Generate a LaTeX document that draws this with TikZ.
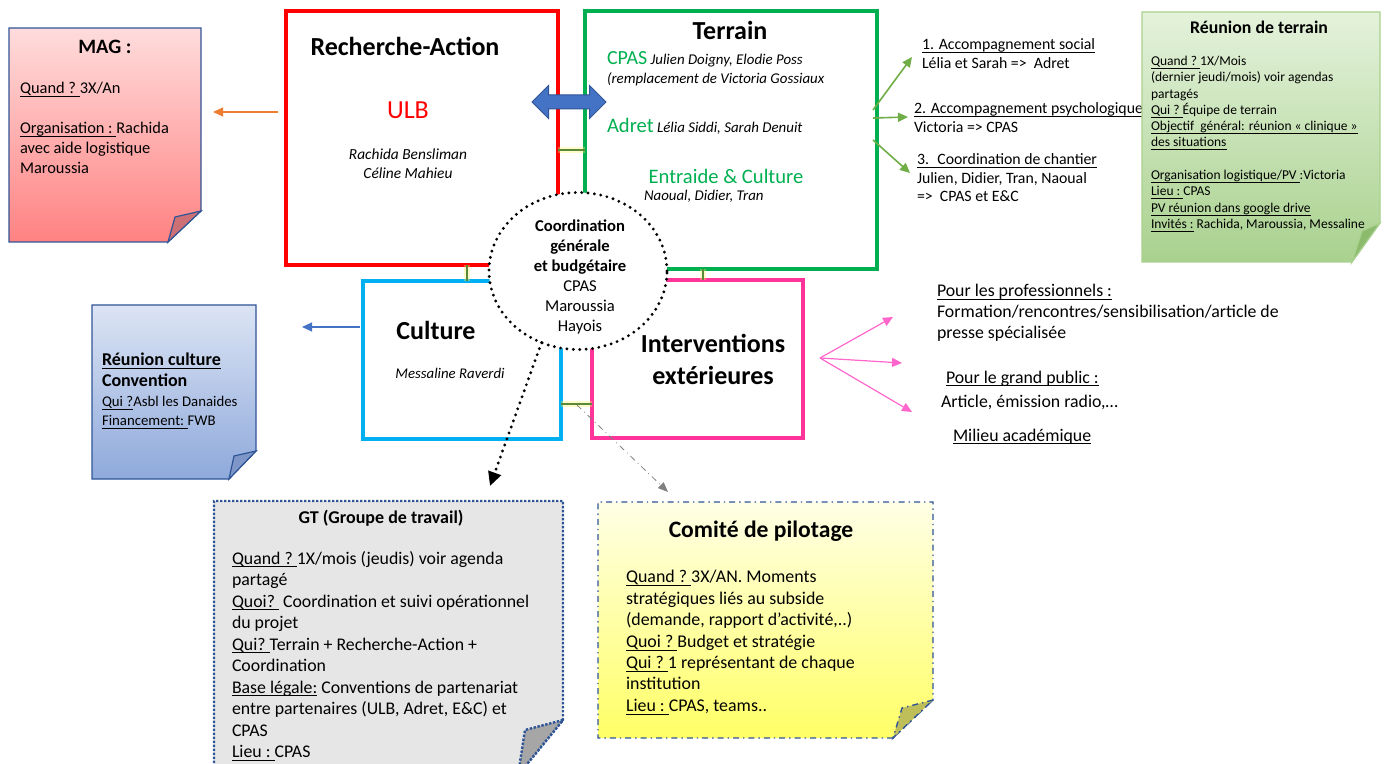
\documentclass[tikz,border=0pt]{standalone}
\usepackage{fontspec}
\setmainfont{Carlito}
\usetikzlibrary{arrows.meta,shapes.geometric,shapes.arrows}

\definecolor{ulbred}{HTML}{FF0000}
\definecolor{terrgreen}{HTML}{00B050}
\definecolor{cultblue}{HTML}{00B0F0}
\definecolor{intpink}{HTML}{FF3399}
\definecolor{notebord}{HTML}{2F5597}
\definecolor{arrblue}{HTML}{4472C4}
\definecolor{arrorange}{HTML}{ED7D31}
\definecolor{arrgreen}{HTML}{70AD47}
\definecolor{arrpink}{HTML}{FF66CC}
\definecolor{magtop}{HTML}{FFDCDC}
\definecolor{magbot}{HTML}{FF8282}
\definecolor{magfold}{HTML}{CC7075}
\definecolor{rcutop}{HTML}{DCE4F4}
\definecolor{rcubot}{HTML}{8EA9DB}
\definecolor{rcufold}{HTML}{7F96C8}
\definecolor{rtgtop}{HTML}{E4F2DB}
\definecolor{rtgbot}{HTML}{A9D18E}
\definecolor{rtgbord}{HTML}{A9D18E}
\definecolor{rtgfold}{HTML}{8DBB6E}
\definecolor{gtfill}{HTML}{E7E6E6}
\definecolor{gtfold}{HTML}{A6A6A6}
\definecolor{coptop}{HTML}{FFFFE6}
\definecolor{copbot}{HTML}{FFFF66}
\definecolor{copfold}{HTML}{BFBF5A}

\newcommand{\fsz}[2]{\fontsize{#1}{#2}\selectfont}
\newcommand{\uln}[1]{\underline{\smash{#1}}}

\tikzset{
  every node/.style={inner sep=0pt, outer sep=0pt},
  orgbox/.style={draw, line width=2pt},
  txt/.style={align=left, anchor=north west},
  tipsmall/.style={-{Triangle[length=5pt,width=4.5pt]}},
  grnarrow/.style={draw=arrgreen, line width=0.8pt, tipsmall},
  pnkarrow/.style={draw=arrpink, line width=0.6pt, tipsmall},
  glowline/.style={draw=arrgreen!80!black, line width=0.6pt,
    preaction={draw=yellow!60!white, line width=3pt, opacity=0.35}},
  notefold/.style={line width=0.6pt}
}

\begin{document}
\begin{tikzpicture}[x=0.5pt, y=-0.5pt]
\useasboundingbox (0,0) rectangle (1384,764);
\clip (0,0) rectangle (1384,764);

% MAG note
\shade[top color=magtop, bottom color=magbot, draw=notebord, line width=0.6pt]
  (9,28) -- (201,28) -- (201,211) -- (168,242) -- (9,242) -- cycle;
\filldraw[notefold, fill=magfold, draw=notebord] (201,211) -- (175,217) -- (168,242) -- cycle;
\node[font=\fsz{10.2}{12}\bfseries] (magt) at (105,47) {MAG :};
\node[txt, font=\fsz{8.2}{10}] (magb) at (20,80)
  {\strut\uln{Quand ?~}3X/An\\[10pt]\uln{Organisation :~}Rachida\\avec aide logistique\\Maroussia};

% Reunion culture note
\shade[top color=rcutop, bottom color=rcubot, draw=notebord, line width=0.6pt]
  (92,305) -- (256,305) -- (256,451) -- (229,479) -- (92,479) -- cycle;
\filldraw[notefold, fill=rcufold, draw=notebord] (256,451) -- (234,456) -- (229,479) -- cycle;
\node[txt, font=\fsz{9}{10.5}\bfseries] (rcub) at (102,351)
  {\strut\uln{Réunion culture}\\Convention};
\node[txt, font=\fsz{7.4}{9.5}] (rcus) at (102,393)
  {\strut\uln{Qui ?}Asbl les Danaides\\\uln{Financement:~}FWB};

% boxes
\node[orgbox, draw=ulbred, minimum width=136pt, minimum height=127pt] (ra) at (422,138) {};
\node[orgbox, draw=terrgreen, minimum width=146pt, minimum height=129pt] (ter) at (731,140) {};
\node[orgbox, draw=cultblue, line width=1.6pt, minimum width=99pt, minimum height=79pt] (cul) at (462,360) {};
\node[orgbox, draw=intpink, line width=1.6pt, minimum width=105.5pt, minimum height=79pt] (int) at (697.5,359) {};

% hidden connectors between boxes
\draw[glowline] ([yshift=-6pt]ra.east) -- ([yshift=-6pt]ra.east -| ter.west);
\draw[glowline] ([xshift=2.5pt]cul.north) -- ([xshift=2.5pt]cul.north |- ra.south);
\draw[glowline] ([xshift=2.75pt]int.north) -- ([xshift=2.75pt]int.north |- ter.south);
\draw[glowline] ([yshift=-22pt]cul.east) -- ([yshift=-22pt]cul.east -| int.west);

\node[double arrow, fill=arrblue, draw=notebord, line width=0.5pt, inner sep=3.25pt,
  minimum width=16pt, minimum height=37pt, double arrow head extend=4.75pt] (link) at (569,102) {};

% Recherche-Action
\node[font=\fsz{13}{15}\bfseries] (rat) at (405,46) {Recherche-Action};
\node[font=\fsz{13}{15}, text=ulbred] (ulb) at (408,110) {ULB};
\node[font=\fsz{7.7}{9.5}\itshape, align=center] (ranames) at (408,164) {Rachida Bensliman\\Céline Mahieu};

% Terrain
\node[font=\fsz{13}{15}\bfseries] (tert) at (730,30) {Terrain};
\node[anchor=base west, font=\fsz{7.45}{9}\itshape] (cpas) at (607,65)
  {{\fsz{10}{12}\upshape\color{terrgreen}CPAS} Julien Doigny, Elodie Poss};
\node[anchor=base west, font=\fsz{7.45}{9}\itshape] (cpasb) at (607,84) {(remplacement de Victoria Gossiaux};
\node[anchor=base west, font=\fsz{7.45}{9}\itshape] (adret) at (607,133)
  {{\fsz{10.3}{12}\upshape\color{terrgreen}Adret} Lélia Siddi, Sarah Denuit};
\node[font=\fsz{10.3}{12}, text=terrgreen] (ec) at (726,176) {Entraide \& Culture};
\node[anchor=base west, font=\fsz{7.45}{9}\itshape] (ecnames) at (644,201) {Naoual, Didier, Tran};

% Culture & Interventions
\node[font=\fsz{13}{15}\bfseries] (cult) at (436,330) {Culture};
\node[font=\fsz{7.4}{9}\itshape] (culn) at (450,373) {Messaline Raverdi};
\node[font=\fsz{13}{16}\bfseries, align=center] (intt) at (713,359) {Interventions\\extérieures};

% coordination
\node[ellipse, draw, fill=white, line width=1.6pt, dash pattern=on 0pt off 3.2pt, line cap=round,
  minimum width=89pt, minimum height=78.5pt] (coord) at (578,271) {};
\node[font=\fsz{8.3}{10}, align=center] (coordt) at (580,277)
  {\textbf{Coordination}\\\textbf{générale}\\\textbf{et budgétaire}\\CPAS\\Maroussia\\Hayois};

% arrows out
\coordinate (magout) at (278,112);
\coordinate (magin) at (213,112);
\draw[draw=arrorange, line width=0.6pt, tipsmall] (magout) -- (magin);
\coordinate (culin) at (302,327);
\draw[draw=arrblue, line width=0.6pt, tipsmall] ([yshift=16.5pt,xshift=-1.5pt]cul.west) -- (culin);

\coordinate (soc) at (912,57);
\coordinate (psy) at (908,117);
\coordinate (chant) at (910,173);
\draw[grnarrow] ([yshift=15pt,xshift=-2pt]ter.east) -- (soc);
\draw[grnarrow] ([yshift=11pt,xshift=-2pt]ter.east) -- (psy);
\draw[grnarrow] ([xshift=-2pt]ter.east) -- (chant);

\coordinate (pk) at (820,358);
\coordinate (pk1) at (893,317);
\coordinate (pk2) at (902,363);
\coordinate (pk3) at (912,412);
\draw[pnkarrow] (pk) -- (pk1);
\draw[pnkarrow] (pk) -- (pk2);
\draw[pnkarrow] (pk) -- (pk3);

\coordinate (gtin) at (490,486);
\draw[line width=1.6pt, dash pattern=on 0pt off 3.2pt, line cap=round,
  -{Triangle[length=7pt,width=6.5pt]}] (coord.243) -- (gtin);
\coordinate (cijct) at (577,405);
\coordinate (copin) at (668,492);
\draw[draw=gray, line width=0.4pt, dash dot, -{Triangle[length=5pt,width=4pt]}] (cijct) -- (copin);

% accompaniment texts
\node[txt, font=\fsz{7.9}{9.25}] (socl) at (922,37)
  {\strut\uln{1. Accompagnement social}\\Lélia et Sarah =>~ Adret};
\node[txt, font=\fsz{7.9}{9.25}] (psyl) at (914,101)
  {\strut\uln{2. Accompagnement psychologique}\\Victoria => CPAS};
\node[txt, font=\fsz{7.9}{9.25}] (chl) at (917,152)
  {\strut\uln{3.~ Coordination de chantier}\\Julien, Didier, Tran, Naoual\\=>~ CPAS et E\&C};

% Reunion de terrain note
\shade[top color=rtgtop, bottom color=rtgbot, draw=rtgbord, line width=0.6pt]
  (1142,12) -- (1380,12) -- (1380,223) -- (1352,262) -- (1142,262) -- cycle;
\filldraw[notefold, fill=rtgfold, draw=rtgbord] (1380,223) -- (1362,231) -- (1352,262) -- cycle;
\node[font=\fsz{8.9}{10}\bfseries] (rtgt) at (1259,27) {Réunion de terrain};
\node[txt, font=\fsz{6.75}{8.15}] (rtgb) at (1151,54)
  {\strut\uln{Quand ?~}1X/Mois\\(dernier jeudi/mois) voir agendas\\partagés\\\uln{Qui ?~}Équipe de terrain\\
   \uln{Objectif~ général: réunion « clinique »}\\\uln{des situations}\\[8.15pt]
   \uln{Organisation logistique/PV~}:Victoria\\\uln{Lieu :~}CPAS\\\uln{PV réunion dans google drive}\\
   \uln{Invités :}~Rachida, Maroussia, Messaline};

% public texts
\node[txt, font=\fsz{8.9}{10.5}] (prof) at (937,282)
  {\strut\uln{Pour les professionnels :}\\Formation/rencontres/sensibilisation/article de\\presse spécialisée};
\node[anchor=base west, font=\fsz{8.9}{10.5}] (pub) at (946,383) {\uln{Pour le grand public :}};
\node[anchor=base west, font=\fsz{8.9}{10.5}] (pubb) at (941,407) {Article, émission radio,…};
\node[anchor=base west, font=\fsz{8.9}{10.5}] (acad) at (953,441) {\uln{Milieu académique}};

% GT note
\fill[gtfill] (214,501) -- (563,501) -- (563,720) -- (518,775) -- (214,775) -- cycle;
\draw[draw=notebord, line width=1.2pt, dash pattern=on 1.2pt off 0.8pt]
  (518,775) -- (214,775) -- (214,501) -- (563,501) -- (563,720) -- (518,775);
\filldraw[fill=gtfold, draw=notebord, line width=1.2pt, dash pattern=on 1.2pt off 0.8pt]
  (563,720) -- (525,730) -- (518,775) -- cycle;
\node[font=\fsz{9}{10}\bfseries] (gtt) at (381,518) {GT (Groupe de travail)};
\node[txt, font=\fsz{8.9}{10.75}] (gtb) at (232,549)
  {\strut\uln{Quand ?~}1X/mois (jeudis) voir agenda\\partagé\\\uln{Quoi?~}~Coordination et suivi opérationnel\\du projet\\
   \uln{Qui?~}Terrain + Recherche-Action +\\Coordination\\\uln{Base légale:}~Conventions de partenariat\\
   entre partenaires (ULB, Adret, E\&C) et\\CPAS\\\uln{Lieu :~}CPAS};

% Comite de pilotage note
\shade[top color=coptop, bottom color=copbot] (598,502) -- (933,502) -- (933,700) -- (893,738) -- (598,738) -- cycle;
\draw[draw=notebord, line width=0.7pt, dash dot]
  (893,738) -- (598,738) -- (598,502) -- (933,502) -- (933,700) -- (893,738);
\filldraw[fill=copfold, draw=notebord, line width=0.7pt, dash dot] (933,700) -- (902,708) -- (893,738) -- cycle;
\node[font=\fsz{11.8}{13}\bfseries] (copt) at (761,531) {Comité de pilotage};
\node[txt, font=\fsz{8.95}{10.7}] (copb) at (626,568)
  {\strut\uln{Quand ?~}3X/AN. Moments\\stratégiques liés au subside\\(demande, rapport d’activité,..)\\
   \uln{Quoi ?~}Budget et stratégie\\\uln{Qui ?~}1 représentant de chaque\\institution\\\uln{Lieu :~}CPAS, teams..};
\end{tikzpicture}
\end{document}
